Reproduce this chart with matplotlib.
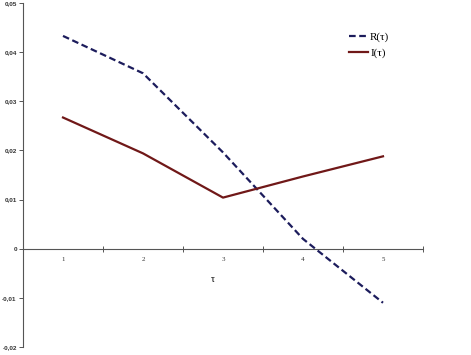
import matplotlib
matplotlib.use("Agg")
import matplotlib.pyplot as plt

tau = [1, 2, 3, 4, 5]
R = [0.0433, 0.0357, 0.0196, 0.0020, -0.0110]
I = [0.0267, 0.0194, 0.0104, 0.0147, 0.0188]
yticks = [-0.02, -0.01, 0, 0.01, 0.02, 0.03, 0.04, 0.05]
ylabels = ["-0,02", "-0,01", "0", "0,01", "0,02", "0,03", "0,04", "0,05"]

fig = plt.figure(figsize=(4.71, 3.55), dpi=100)
ax = fig.add_axes([23/471, 8/355, 400/471, 344/355])
ax.plot(tau, R, color="#1c1c5c", lw=1.6, ls=(0, (3, 1.6)), label="R(τ)")
ax.plot(tau, I, color="#701818", lw=1.6, label="I(τ)")
ax.set_xlim(0.5, 5.5)
ax.set_ylim(-0.02, 0.05)
ax.spines["top"].set_visible(False)
ax.spines["right"].set_visible(False)
ax.spines["bottom"].set_position(("data", 0))
for s in ("left", "bottom"):
    ax.spines[s].set_color("#555555")
    ax.spines[s].set_linewidth(0.8)
ax.set_yticks(yticks)
ax.set_yticklabels(ylabels, fontsize=4.6, fontweight="bold", color="#333333",
                   family="Liberation Sans")
ax.set_xticks(tau)
ax.set_xticklabels([str(t) for t in tau], fontsize=5, color="#333333", family="Liberation Serif")
ax.set_xticks([0.5, 1.5, 2.5, 3.5, 4.5, 5.5], minor=True)
ax.tick_params(axis="x", which="major", length=0, pad=6)
ax.tick_params(axis="x", which="minor", direction="inout", length=5, color="#555555", width=0.7)
ax.tick_params(axis="y", direction="out", length=3, color="#555555", width=0.7, pad=1.5)
ax.text(0.475, (279 - 347) / -344, "τ", transform=ax.transAxes, fontsize=7,
        family="Liberation Serif", ha="center", va="center")
leg = ax.legend(loc="upper left", bbox_to_anchor=(316/400, 1 - 19/344), frameon=False,
                prop={"family": "Liberation Serif", "size": 8}, handlelength=1.7,
                handletextpad=0.2, labelspacing=0.55)
fig.savefig("out.png", dpi=100)
